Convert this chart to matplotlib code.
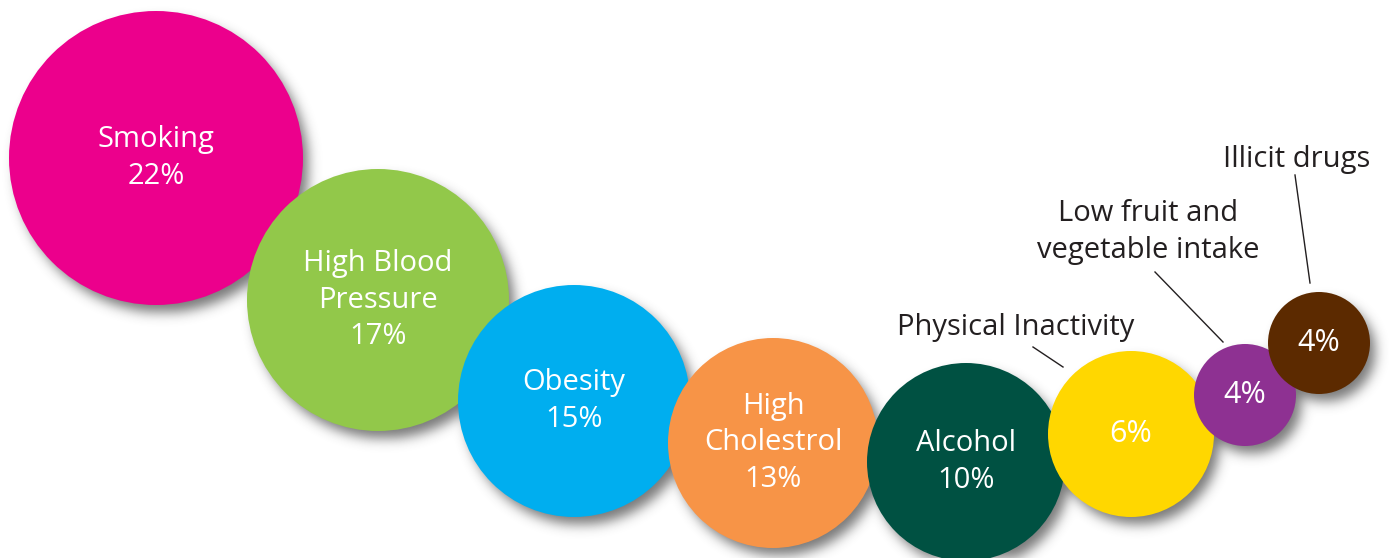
import numpy as np
import matplotlib
matplotlib.use("Agg")
import matplotlib.pyplot as plt
from matplotlib.patches import Circle

# ---- data ----
categories = ["Smoking", "High Blood\nPressure", "Obesity", "High\nCholestrol", "Alcohol",
              "Physical Inactivity", "Low fruit and\nvegetable intake", "Illicit drugs"]
values = [22, 17, 15, 13, 10, 6, 4, 4]
inside_label = [True, True, True, True, True, False, False, False]

# ---- layout (pixels in a 1389x558 canvas, y downwards) ----
W, H = 1389, 558
cx = [156, 378, 574, 773, 966, 1131, 1245, 1319]
cy = [158, 300, 401, 443, 462, 434, 395, 343]
rad = [147, 131, 116, 105, 99, 83, 51, 51]
colors = ["#EC008C", "#92C84A", "#00AEEF", "#F79447", "#005142", "#FFD700", "#8E3192", "#5C2A00"]
# outside label positions and leader lines
out_text = {5: (1016, 327), 6: (1148, 232), 7: (1297, 160)}
out_line = {5: ((1033, 347), (1063, 367)), 6: ((1155, 272), (1223, 342)), 7: ((1295, 175), (1310, 283))}

FONT = ["Open Sans", "DejaVu Sans"]
TXT = "#231F20"
FS = 21
LS = 1.32

fig = plt.figure(figsize=(W / 100, H / 100), dpi=100)
ax = fig.add_axes([0, 0, 1, 1])
ax.set_xlim(0, W)
ax.set_ylim(H, 0)
ax.axis("off")

# ---- soft drop shadow layer ----
yy, xx = np.mgrid[0:H, 0:W]
mask = np.zeros((H, W))
dx, dy = 6, 8
for x, y, r in zip(cx, cy, rad):
    mask = np.maximum(mask, ((xx - x - dx) ** 2 + (yy - y - dy) ** 2 <= (r - 1) ** 2).astype(float))
sig = 6.0
k = np.arange(-18, 19)
kern = np.exp(-k ** 2 / (2 * sig ** 2))
kern /= kern.sum()
pad = np.pad(mask, 18)
tmp = sum(w * np.roll(pad, s, axis=1) for s, w in zip(k, kern))
blur = sum(w * np.roll(tmp, s, axis=0) for s, w in zip(k, kern))[18:-18, 18:-18]
rgba = np.zeros((H, W, 4))
rgba[..., :3] = 0.25
rgba[..., 3] = 0.7 * blur
ax.imshow(rgba, extent=(0, W, H, 0), zorder=1, interpolation="bilinear")

for i, (x, y, r, c) in enumerate(zip(cx, cy, rad, colors)):
    ax.add_patch(Circle((x, y), r, facecolor=c, edgecolor="none", zorder=2 + i))
    if inside_label[i]:
        ax.text(x, y, f"{categories[i]}\n{values[i]}%", color="white", ha="center", va="center",
                fontsize=FS, family=FONT, linespacing=LS, zorder=20)
    else:
        ax.text(x, y, f"{values[i]}%", color="white", ha="center", va="center",
                fontsize=FS + 1, family=FONT, zorder=20)
        tx, ty = out_text[i]
        ax.text(tx, ty, categories[i], color=TXT, ha="center", va="center",
                fontsize=FS, family=FONT, linespacing=LS, zorder=20)
        (x0, y0), (x1, y1) = out_line[i]
        ax.plot([x0, x1], [y0, y1], color=TXT, lw=1, zorder=20)

fig.savefig("out.png", dpi=100)
